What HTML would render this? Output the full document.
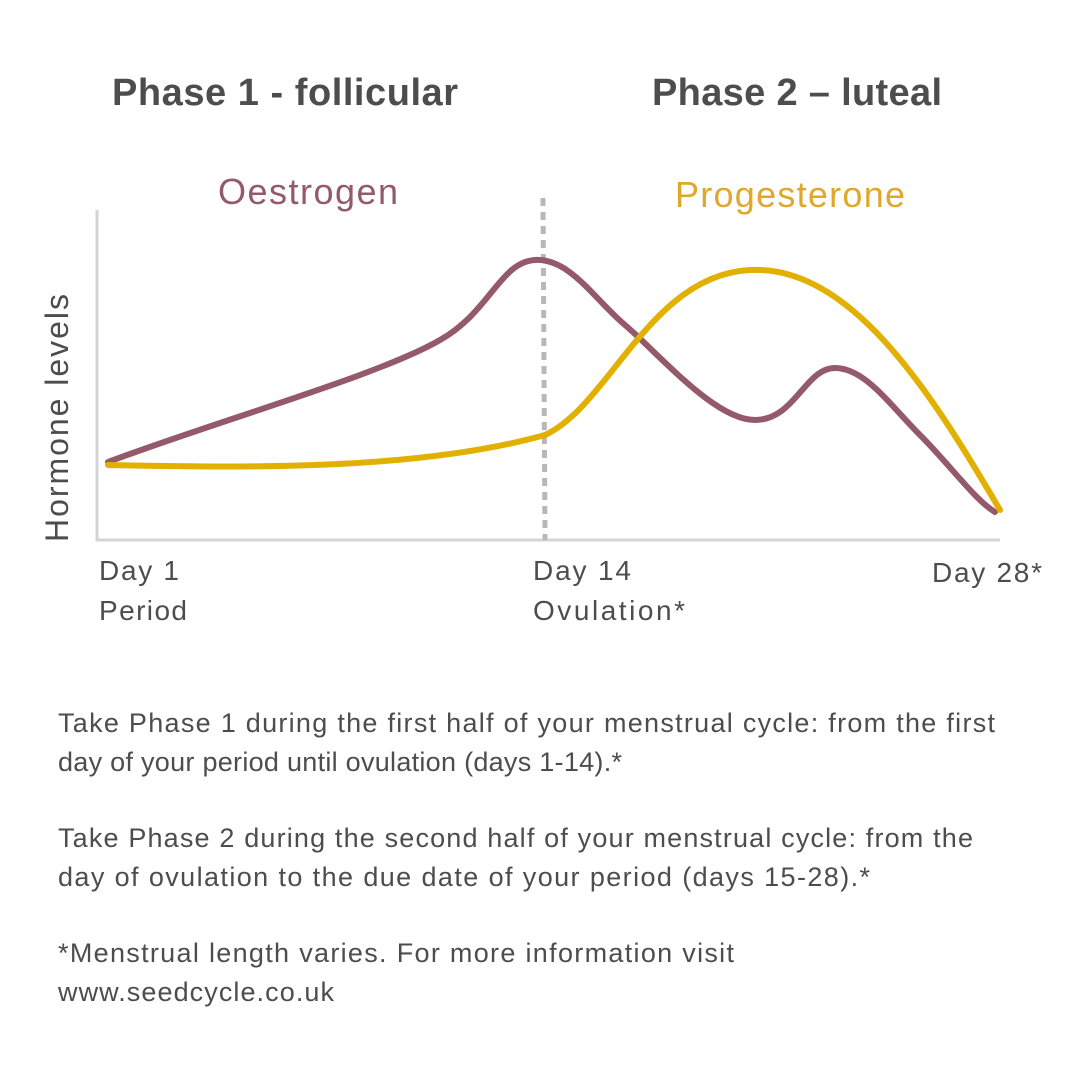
<!DOCTYPE html>
<html><head><meta charset="utf-8"><style>
html,body{margin:0;padding:0;background:#fff}
svg{display:block}
text{font-family:"Liberation Sans","DejaVu Sans",sans-serif}
</style></head><body>
<svg width="1080" height="1080" viewBox="0 0 1080 1080">
<rect width="1080" height="1080" fill="#fff"/>
<text x="112" y="105" font-size="38" font-weight="bold" fill="#4d4d4d" textLength="346">Phase 1 - follicular</text>
<text x="652" y="105" font-size="38" font-weight="bold" fill="#4d4d4d" textLength="290">Phase 2 – luteal</text>
<text x="218" y="204" font-size="36" fill="#94596a" textLength="180">Oestrogen</text>
<text x="675" y="207" font-size="36" fill="#e0a82a" textLength="230">Progesterone</text>
<text transform="translate(68,542) rotate(-90)" font-size="32" fill="#4d4d4d" textLength="248">Hormone levels</text>
<line x1="97" y1="210" x2="97" y2="541" stroke="#d4d4d4" stroke-width="3"/>
<line x1="96" y1="540" x2="1000" y2="540" stroke="#d4d4d4" stroke-width="3"/>
<line x1="543" y1="198" x2="545" y2="540" stroke="#b8b8b8" stroke-width="5" stroke-dasharray="8,6"/>
<path d="M108,462 C220,420 380,375 440,340 C490,312 500,262 535,260 C570,258 595,300 625,325 C660,355 715,420 755,420 C795,420 805,368 835,368 C865,368 890,405 920,435 C950,465 975,500 995,512" fill="none" stroke="#94596a" stroke-width="6" stroke-linecap="round"/>
<path d="M108,465 C250,468 420,470 545,435 C610,405 650,275 750,270 C850,265 930,390 1000,510" fill="none" stroke="#e2b000" stroke-width="6" stroke-linecap="round"/>
<g font-size="28" fill="#4d4d4d">
<text x="99" y="580" textLength="80">Day 1</text>
<text x="99" y="620" textLength="88">Period</text>
<text x="533" y="580" textLength="98">Day 14</text>
<text x="533" y="620" textLength="152">Ovulation*</text>
<text x="932" y="582" textLength="110">Day 28*</text>
</g>
<g font-size="27" fill="#4d4d4d">
<text x="58" y="732" textLength="937">Take Phase 1 during the first half of your menstrual cycle: from the first</text>
<text x="58" y="771" textLength="564">day of your period until ovulation (days 1-14).*</text>
<text x="58" y="847" textLength="915">Take Phase 2 during the second half of your menstrual cycle: from the</text>
<text x="58" y="886" textLength="812">day of ovulation to the due date of your period (days 15-28).*</text>
<text x="58" y="962" textLength="676">*Menstrual length varies. For more information visit</text>
<text x="58" y="1001" textLength="276">www.seedcycle.co.uk</text>
</g>
</svg>
</body></html>
